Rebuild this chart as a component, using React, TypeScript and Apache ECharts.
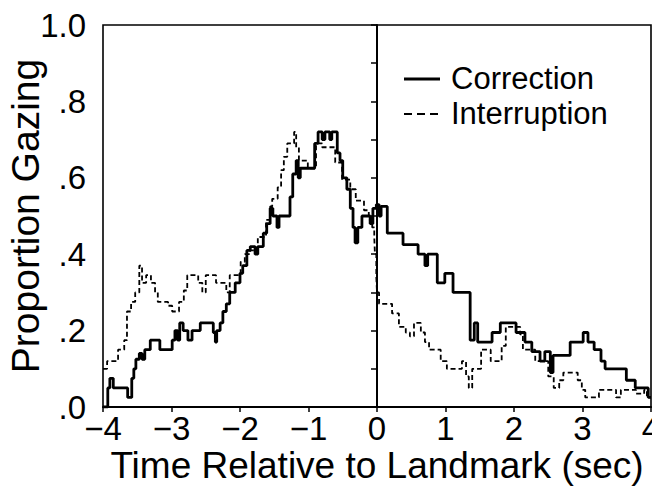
import React, { useEffect, useRef } from "react";
import * as echarts from "echarts";

// Correction (solid) — step values: [time (sec), proportion]
const correctionTime = [
  -4.0, -3.93, -3.9, -3.85, -3.64, -3.58, -3.55, -3.52, -3.47, -3.43, -3.39, -3.31,
  -3.17, -2.99, -2.95, -2.91, -2.88, -2.83, -2.76, -2.7, -2.58, -2.39, -2.36, -2.34,
  -2.29, -2.25, -2.2, -2.15, -2.07, -2.0, -1.96, -1.9, -1.85, -1.78, -1.74, -1.66,
  -1.61, -1.56, -1.52, -1.46, -1.43, -1.27, -1.23, -1.18, -1.15, -1.12, -0.91, -0.86,
  -0.8, -0.76, -0.69, -0.66, -0.58, -0.54, -0.5, -0.44, -0.39, -0.35, -0.32, -0.28,
  -0.22, -0.1, -0.06, -0.01, 0.03, 0.06, 0.15, 0.38, 0.6, 0.7, 0.74, 0.88, 0.99, 1.11,
  1.36, 1.42, 1.47, 1.68, 1.8, 2.03, 2.12, 2.16, 2.26, 2.38, 2.45, 2.53, 2.57, 2.82,
  3.01, 3.08, 3.17, 3.27, 3.33, 3.64, 3.77, 3.96, 4.0,
];
const correctionValue = [
  0.0, 0.05, 0.075, 0.05, 0.025, 0.075, 0.1, 0.125, 0.14, 0.125, 0.15, 0.175,
  0.15, 0.175, 0.2, 0.175, 0.22, 0.2, 0.175, 0.2, 0.22, 0.195, 0.17, 0.2,
  0.22, 0.25, 0.27, 0.3, 0.325, 0.35, 0.37, 0.41, 0.42, 0.4, 0.42, 0.455,
  0.48, 0.52, 0.5, 0.47, 0.5, 0.55, 0.61, 0.645, 0.6, 0.625, 0.69, 0.72,
  0.7, 0.72, 0.7, 0.72, 0.665, 0.645, 0.6, 0.57, 0.52, 0.47, 0.43, 0.47,
  0.5, 0.48, 0.52, 0.53, 0.5, 0.525, 0.455, 0.425, 0.4, 0.37, 0.4, 0.325, 0.35, 0.3,
  0.175, 0.22, 0.17, 0.195, 0.22, 0.195, 0.195, 0.17, 0.145, 0.12, 0.145, 0.09, 0.135, 0.17,
  0.195, 0.17, 0.15, 0.12, 0.1, 0.07, 0.05, 0.025, 0.025,
];

// Interruption (dashed)
const interruptionTime = [
  -4.0, -3.94, -3.78, -3.69, -3.65, -3.59, -3.53, -3.47, -3.43, -3.37, -3.3, -3.24,
  -3.2, -3.05, -2.99, -2.89, -2.82, -2.77, -2.61, -2.55, -2.5, -2.35, -2.2, -2.15,
  -1.99, -1.93, -1.85, -1.74, -1.62, -1.56, -1.53, -1.45, -1.4, -1.36, -1.31, -1.21,
  -1.18, -1.14, -1.01, -0.89, -0.8, -0.61, -0.51, -0.39, -0.31, -0.19, -0.12, -0.07,
  -0.04, -0.03, -0.01, 0.0, 0.03, 0.22, 0.32, 0.42, 0.48, 0.54, 0.64, 0.7, 0.76, 0.93,
  1.02, 1.24, 1.3, 1.34, 1.39, 1.52, 1.66, 1.82, 1.88, 2.09, 2.13, 2.31, 2.5, 2.58,
  2.66, 2.72, 2.93, 2.99, 3.04, 3.24, 3.49, 3.56, 3.78, 3.9, 3.94, 4.0,
];
const interruptionValue = [
  0.1, 0.12, 0.15, 0.175, 0.25, 0.275, 0.3, 0.37, 0.325, 0.345, 0.325, 0.3,
  0.275, 0.265, 0.25, 0.275, 0.305, 0.345, 0.325, 0.3, 0.345, 0.325, 0.3, 0.345,
  0.38, 0.4, 0.41, 0.445, 0.49, 0.525, 0.545, 0.575, 0.62, 0.655, 0.69, 0.72,
  0.68, 0.645, 0.625, 0.69, 0.68, 0.64, 0.595, 0.57, 0.54, 0.515, 0.49, 0.47,
  0.445, 0.4, 0.34, 0.3, 0.27, 0.245, 0.21, 0.195, 0.185, 0.22, 0.195, 0.17, 0.15, 0.12,
  0.1, 0.12, 0.08, 0.05, 0.1, 0.15, 0.12, 0.16, 0.21, 0.19, 0.15, 0.12, 0.08, 0.05,
  0.07, 0.09, 0.07, 0.045, 0.025, 0.045, 0.025, 0.045, 0.035, 0.045, 0.025, 0.025,
];

// Landmark reference line at t = 0
const landmarkTime = [0, 0];
const landmarkValue = [0, 1];

const xTickLabels = ["\u22124", "\u22123", "\u22122", "\u22121", "0", "1", "2", "3", "4"];
const yTickLabels = [".0", ".2", ".4", ".6", ".8", "1.0"];
const seriesNames = ["Correction", "Interruption"];

const FONT = "'Liberation Sans', Arial, Helvetica, sans-serif";

export default function App() {
  const ref = useRef<HTMLDivElement>(null);
  useEffect(() => {
    if (!ref.current) return;
    const chart = echarts.init(ref.current, undefined, { renderer: "svg" });
    const corr = correctionTime.map((t, i) => [t, correctionValue[i]]);
    const intr = interruptionTime.map((t, i) => [t, interruptionValue[i]]);
    const landmark = landmarkTime.map((t, i) => [t, landmarkValue[i]]);
    chart.setOption({
      animation: false,
      backgroundColor: "#fff",
      grid: {
        left: 103,
        right: 9,
        top: 25,
        bottom: 89,
        show: true,
        borderColor: "#000",
        borderWidth: 1.6,
        containLabel: false,
        outerBoundsMode: "none",
      },
      xAxis: {
        type: "value",
        min: -4,
        max: 4,
        interval: 1,
        splitLine: { show: false },
        axisLine: { onZero: false, lineStyle: { color: "#000", width: 2 } },
        axisTick: { inside: false, length: 5, lineStyle: { color: "#000", width: 1.5 } },
        axisLabel: {
          margin: 5,
          fontSize: 33,
          fontFamily: FONT,
          color: "#000",
          formatter: (v: number) => xTickLabels[Math.round(v) + 4],
        },
        name: "Time Relative to Landmark (sec)",
        nameLocation: "middle",
        nameGap: 40,
        nameMoveOverlap: false,
        nameTextStyle: { fontSize: 37, fontFamily: FONT, color: "#000" },
      },
      yAxis: {
        type: "value",
        min: 0,
        max: 1,
        interval: 0.2,
        splitLine: { show: false },
        axisLine: { show: true, lineStyle: { color: "#000", width: 2 } },
        axisTick: { show: true, inside: false, length: 6, lineStyle: { color: "#000", width: 1.5 } },
        minorTick: { show: true, splitNumber: 2, length: 6, lineStyle: { color: "#000", width: 1.5 } },
        minorSplitLine: { show: false },
        axisLabel: {
          margin: 17,
          fontSize: 33,
          fontFamily: FONT,
          color: "#000",
          formatter: (v: number) => yTickLabels[Math.round(v * 5)],
        },
        name: "Proportion Gazing",
        nameLocation: "middle",
        nameGap: 58,
        nameMoveOverlap: false,
        nameTextStyle: { fontSize: 39, fontFamily: FONT, color: "#000" },
      },
      series: [
        {
          name: seriesNames[0],
          type: "line",
          step: "end",
          data: corr,
          symbol: "none",
          lineStyle: { color: "#000", width: 2.8 },
          z: 3,
        },
        {
          name: seriesNames[1],
          type: "line",
          step: "end",
          data: intr,
          symbol: "none",
          lineStyle: { color: "#000", width: 1.8, type: [5, 3] },
          z: 2,
        },
        {
          name: "landmark",
          type: "line",
          data: landmark,
          symbol: "none",
          silent: true,
          lineStyle: { color: "#000", width: 1.4, type: [1.5, 2.5] },
          z: 1,
        },
      ],
      graphic: [
        {
          type: "line",
          shape: { x1: 404, y1: 79, x2: 440, y2: 79 },
          style: { stroke: "#000", lineWidth: 2.8 },
        },
        {
          type: "line",
          shape: { x1: 404, y1: 114, x2: 441, y2: 114 },
          style: { stroke: "#000", lineWidth: 1.8, lineDash: [8, 5] },
        },
        {
          type: "text",
          x: 451,
          y: 78,
          style: {
            text: seriesNames[0],
            fontSize: 31,
            fontFamily: FONT,
            fill: "#000",
            verticalAlign: "middle",
            align: "left",
          },
        },
        {
          type: "text",
          x: 451,
          y: 113,
          style: {
            text: seriesNames[1],
            fontSize: 31,
            fontFamily: FONT,
            fill: "#000",
            verticalAlign: "middle",
            align: "left",
          },
        },
      ],
    });
    return () => chart.dispose();
  }, []);
  return <div ref={ref} style={{ width: 660, height: 496, margin: -8 }} />;
}
